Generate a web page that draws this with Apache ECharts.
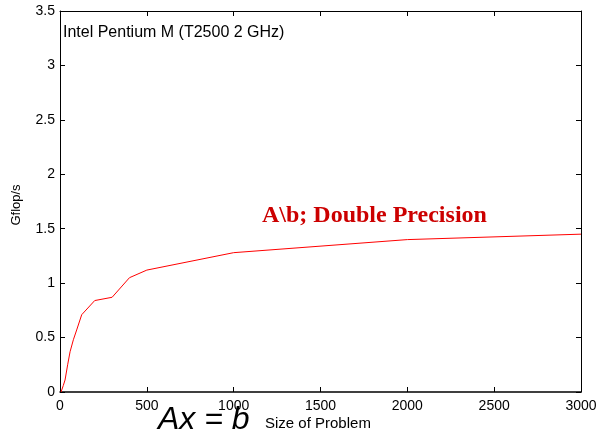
<!DOCTYPE html>
<html>
<head>
<meta charset="utf-8">
<script src="https://cdn.jsdelivr.net/npm/echarts@6/dist/echarts.min.js"></script>
<style>
html,body{margin:0;padding:0;background:#fff}
#chart{width:596px;height:437px}
</style>
</head>
<body>
<div id="chart"></div>
<script>
// problem size vs. measured rate
var sizes = [6, 19, 29, 44, 58, 77, 96, 125, 200, 300, 400, 500, 1000, 2000, 3000]
var gflops = [0, 0.06, 0.11, 0.25, 0.37, 0.48, 0.57, 0.71, 0.84, 0.87, 1.05, 1.12, 1.28, 1.40, 1.45]
var xTicks = [0, 500, 1000, 1500, 2000, 2500, 3000]
var yTicks = [0, 0.5, 1, 1.5, 2, 2.5, 3, 3.5]

var chart = echarts.init(document.getElementById('chart'))
var font = 'Liberation Sans, Arial, sans-serif'

function axisBase(extra) {
    var a = {
        type: 'value',
        axisLine: { show: true, onZero: false, lineStyle: { color: '#000', width: 1 } },
        axisTick: { show: true, inside: true, length: 5, lineStyle: { color: '#000' } },
        splitLine: { show: false },
        axisLabel: { show: false }
    }
    for (var k in extra) a[k] = extra[k]
    return a
}

chart.setOption({
    animation: false,
    grid: { left: 60, right: 15, top: 11, bottom: 45, outerBoundsMode: 'none', containLabel: false },
    xAxis: [
        axisBase({
            min: 0, max: 3000, interval: 500, position: 'bottom',
            axisLine: { show: true, onZero: false, lineStyle: { color: '#000', width: 1.5 } },
            axisLabel: {
                show: true, color: '#000', fontSize: 14, fontFamily: font, margin: 7,
                formatter: function (v) { return xTicks.indexOf(v) >= 0 ? String(v) : '' }
            }
        }),
        axisBase({ min: 0, max: 3000, interval: 500, position: 'top' })
    ],
    yAxis: [
        axisBase({
            min: 0, max: 3.5, interval: 0.5, position: 'left',
            axisLabel: {
                show: true, color: '#000', fontSize: 14, fontFamily: font, margin: 5,
                formatter: function (v) { return yTicks.indexOf(v) >= 0 ? String(v) : '' }
            }
        }),
        axisBase({ min: 0, max: 3.5, interval: 0.5, position: 'right' })
    ],
    series: [{
        type: 'line',
        data: sizes.map(function (s, i) { return [s, gflops[i]] }),
        showSymbol: false,
        lineStyle: { color: '#ff0000', width: 1 },
        itemStyle: { color: '#ff0000' }
    }],
    graphic: [
        {
            type: 'text', left: 63, top: 25,
            style: { text: 'Intel Pentium M (T2500 2 GHz)', fill: '#000', font: '16px ' + font }
        },
        {
            type: 'text', left: 262, top: 204,
            style: { text: 'A\\b; Double Precision', fill: '#cc0000', font: 'bold 24px "Liberation Serif", "Times New Roman", serif' }
        },
        {
            type: 'text', left: 158, top: 404,
            style: { text: 'Ax = b', fill: '#000', font: 'italic 32px ' + font }
        },
        {
            type: 'text', left: 265, top: 416,
            style: { text: 'Size of Problem', fill: '#000', font: '15px ' + font }
        },
        {
            type: 'text', x: 16, y: 205, rotation: Math.PI / 2,
            style: { text: 'Gflop/s', fill: '#000', font: '13px ' + font, align: 'center', verticalAlign: 'middle' }
        }
    ]
})
</script>
</body>
</html>
